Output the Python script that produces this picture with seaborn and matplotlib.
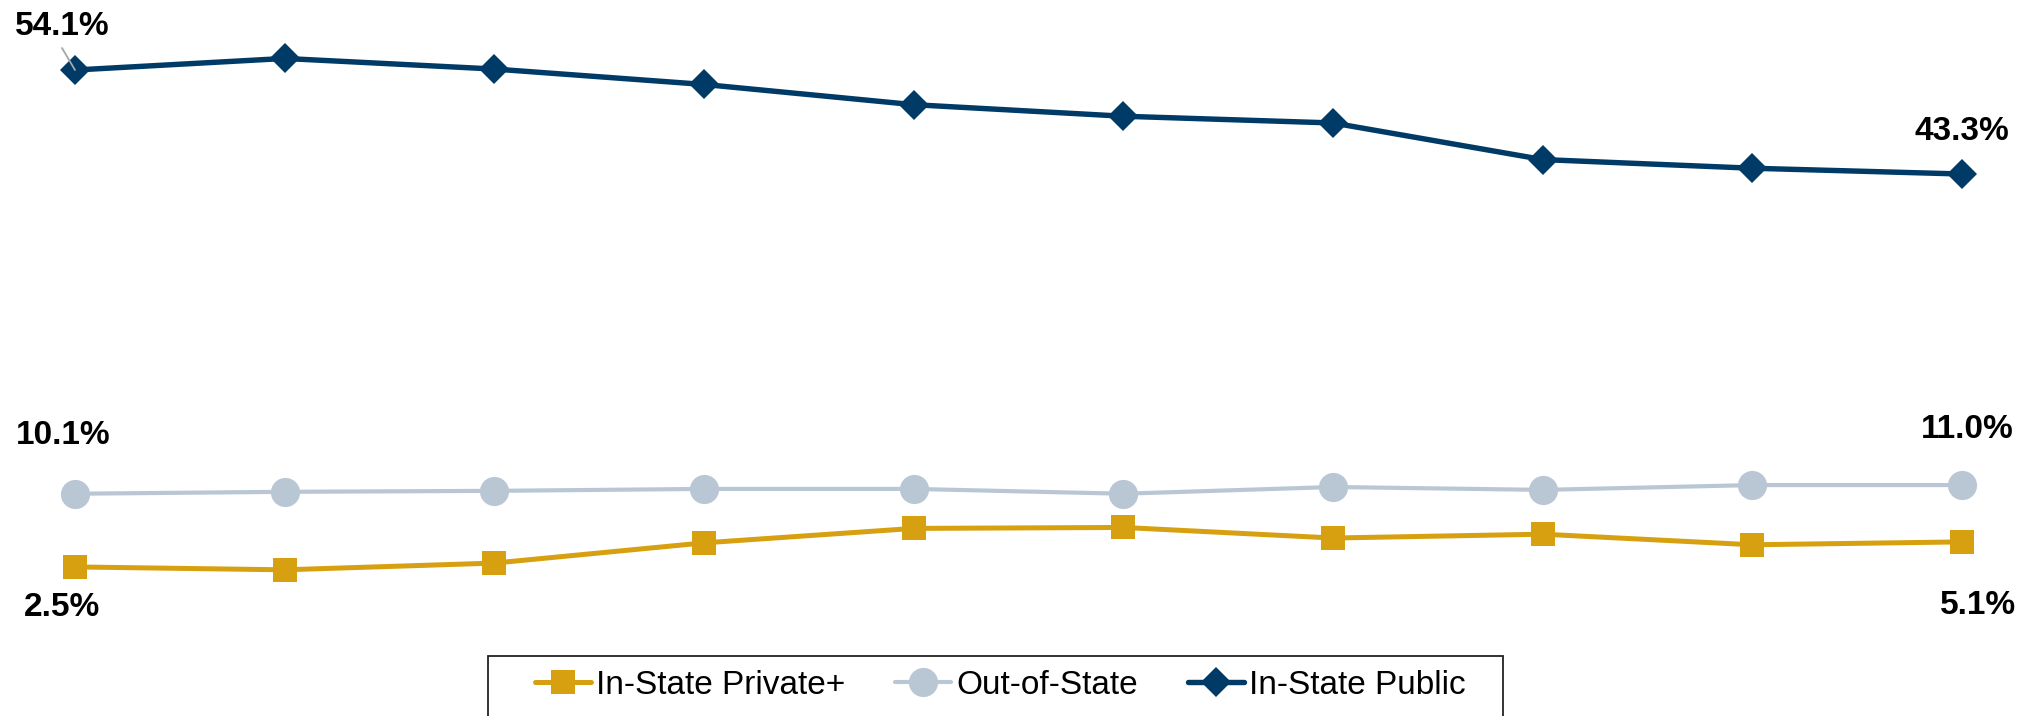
import numpy as np
import pandas as pd
import seaborn as sns
import matplotlib.pyplot as plt
from matplotlib.patches import Rectangle

# data (percent of students)
series = ['In-State Private+', 'Out-of-State', 'In-State Public']
points = np.arange(10)
private = [2.5, 2.2, 2.9, 5.0, 6.5, 6.6, 5.5, 5.9, 4.8, 5.1]
out_state = [10.1, 10.3, 10.4, 10.6, 10.6, 10.1, 10.8, 10.5, 11.0, 11.0]
public = [54.1, 55.3, 54.2, 52.6, 50.5, 49.3, 48.6, 44.8, 43.9, 43.3]

df = pd.DataFrame({
    'point': np.tile(points, 3),
    'share': private + out_state + public,
    'series': np.repeat(series, len(points)),
})

# styling per series
colors = {'In-State Private+': '#D6A010', 'Out-of-State': '#B9C7D5', 'In-State Public': '#003A66'}
markers = {'In-State Private+': 's', 'Out-of-State': 'o', 'In-State Public': 'D'}
msizes = {'In-State Private+': 17.5, 'Out-of-State': 21, 'In-State Public': 15.5}
lwidths = {'In-State Private+': 3.6, 'Out-of-State': 3.0, 'In-State Public': 3.9}

sns.set_theme(style='white')
plt.rcParams['font.family'] = ['Liberation Sans', 'DejaVu Sans']
plt.rcParams['text.color'] = 'black'

fig = plt.figure(figsize=(20.31, 7.16), dpi=100)
ax = fig.add_axes([0, 0, 1, 1])

for name in series:
    sub = df[df['series'] == name]
    sns.lineplot(data=sub, x='point', y='share', color=colors[name],
                 marker=markers[name], markersize=msizes[name], markeredgewidth=0,
                 linewidth=lwidths[name], label=name, ax=ax)

ax.set_xlim(-0.3577, 9.329)
ax.set_ylim(-12.98, 61.37)
ax.set_axis_off()

# end-point labels: (series, index) -> offset in pixels (text baseline)
label_pos = {
    ('In-State Public', 0): (-13, 35),
    ('In-State Public', 9): (0, 34),
    ('Out-of-State', 0): (-12, 50),
    ('Out-of-State', 9): (5, 47),
    ('In-State Private+', 0): (-13, -49),
    ('In-State Private+', 9): (16, -72),
}
for (name, i), (dx, dy) in label_pos.items():
    val = df[(df['series'] == name) & (df['point'] == i)]['share'].iloc[0]
    ax.annotate(f'{val:.1f}%', xy=(i, val), xytext=(dx, dy), textcoords='offset pixels',
                ha='center', va='baseline', fontsize=24, fontweight='bold', color='black')

# little leader line on the first public label
ax.annotate('', xy=(0, public[0]), xytext=(-13, 22), textcoords='offset pixels',
            arrowprops=dict(arrowstyle='-', color='#A6A6A6', lw=1.3, shrinkA=0, shrinkB=0),
            zorder=5)

handles, labels = ax.get_legend_handles_labels()
leg = ax.legend(handles, labels, loc='center', bbox_to_anchor=(1000 / 2031, 1 - 685 / 716),
                bbox_transform=fig.transFigure, ncol=3, frameon=False, fontsize=24,
                handlelength=1.68, handletextpad=0.15, columnspacing=1.5, borderpad=0)
for t in leg.get_texts():
    t.set_color('black')

fig.patches.append(Rectangle((488 / 2031, -0.05), (1503 - 488) / 2031, 0.05 + 1 - 656 / 716,
                             transform=fig.transFigure, fill=False, edgecolor='#222222', lw=1.3))

fig.savefig('out.png', dpi=100)
